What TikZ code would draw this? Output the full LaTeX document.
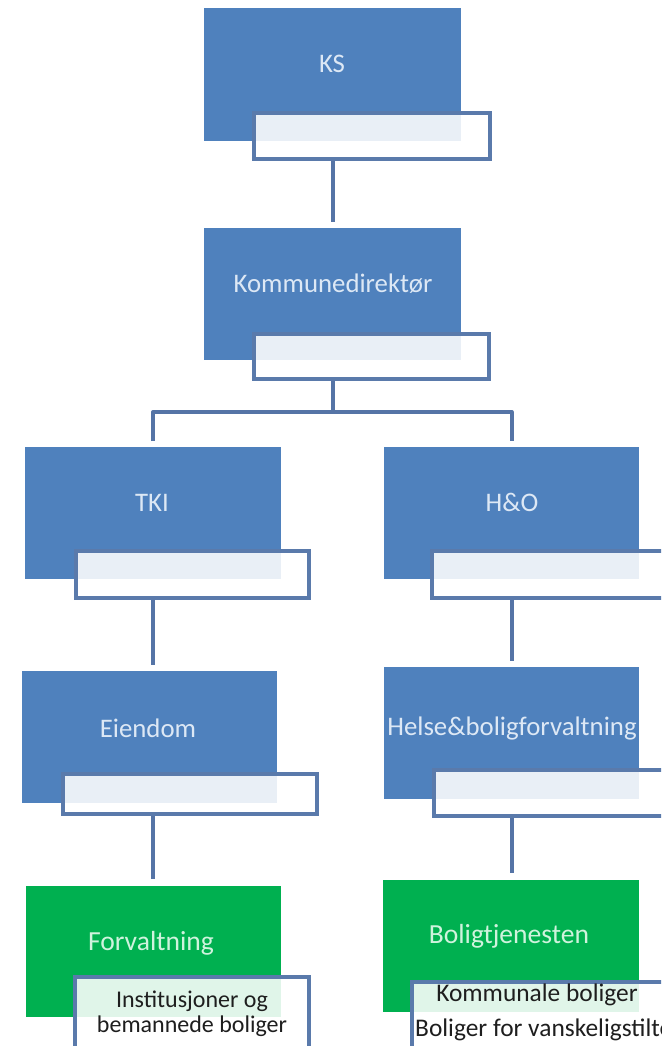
\documentclass[tikz,border=0pt]{standalone}
\usepackage{fontspec}
\setmainfont{Carlito}
\definecolor{ofblue}{HTML}{4F81BD}
\definecolor{ofgreen}{HTML}{00B050}
\definecolor{bordercol}{HTML}{5A7AAB}
\definecolor{linecol}{HTML}{5574A6}
\definecolor{lbltxt}{HTML}{DDE8F5}
\definecolor{grntxt}{HTML}{CFF3DD}
\definecolor{darktxt}{HTML}{1E1E1E}
\tikzset{
  dims/.style 2 args={minimum width=#1pt, minimum height=#2pt},
  bluebox/.style={fill=ofblue, draw=none, inner sep=0pt, outer sep=0pt},
  greenbox/.style={fill=ofgreen, draw=none, inner sep=0pt, outer sep=0pt},
  asst/.style={draw=bordercol, line width=4pt, fill=white, fill opacity=0.88, inner sep=0pt},
  lbl/.style={anchor=base, inner sep=0pt, text=lbltxt, font=\fontsize{26.8}{30}\selectfont},
  glbl/.style={anchor=base, inner sep=0pt, text=grntxt, font=\fontsize{27.6}{31}\selectfont},
  atxt/.style={anchor=base, inner sep=0pt, text=darktxt, font=\fontsize{24}{28}\selectfont},
  btxt/.style={anchor=base, inner sep=0pt, text=darktxt, font=\fontsize{25.4}{28}\selectfont},
  conn/.style={draw=linecol, line width=4pt},
}
\begin{document}
\begin{tikzpicture}[x=1pt,y=-1pt]
\path[use as bounding box, fill=white] (0,0) rectangle (661,1046);
\clip (0,0) rectangle (661,1046);

% level 1
\node[bluebox, dims={257}{133}] (ks) at (332.5,74.5) {};
\node[asst, dims={236}{46}] (ksw) at (372,136) {};
\node[lbl] (kst) at (332,73) {KS};

% level 2
\node[bluebox, dims={257}{132}] (kd) at (332.5,294) {};
\node[asst, dims={235}{45}] (kdw) at (371.5,356.5) {};
\node[lbl] (kdt) at (333,292) {Kommunedirektør};

% level 3
\node[bluebox, dims={256}{132}] (tki) at (153,513) {};
\node[asst, dims={233}{47}] (tkiw) at (192.5,574.5) {};
\node[lbl] (tkit) at (152,511) {TKI};

\node[bluebox, dims={255}{132}] (ho) at (511.5,513) {};
\node[asst, dims={266}{47}] (how) at (565,574.5) {};
\node[lbl] (hot) at (512,511) {H\&O};

% level 4
\node[bluebox, dims={255}{132}] (eien) at (149.5,737) {};
\node[asst, dims={254}{40}] (eienw) at (190,794) {};
\node[lbl] (eient) at (148,737) {Eiendom};

\node[bluebox, dims={255}{132}] (helse) at (511.5,733) {};
\node[asst, dims={264}{46}] (helsew) at (566,793) {};
\node[lbl] (helset) at (512,735) {Helse\&boligforvaltning};

% level 5
\node[greenbox, dims={255}{131}] (forv) at (153.5,951.5) {};
\node[asst, dims={234}{91}] (forvw) at (192,1022.5) {};
\node[glbl] (forvt) at (151,950) {Forvaltning};
\node[atxt] (forva) at (192,1007.5) {Institusjoner og};
\node[atxt] (forvb) at (192,1032.5) {bemannede boliger};

\node[greenbox, dims={256}{132}] (bolig) at (511,946) {};
\node[asst, dims={286}{86}] (boligw) at (555,1025) {};
\node[glbl] (boligt) at (509,943) {Boligtjenesten};
\node[btxt] (boliga) at (537,1001.5) {Kommunale boliger};
\node[btxt, anchor=base west] (boligb) at (415,1036.5) {Boliger for vanskeligstilte};

% connectors
\coordinate (j) at (332.5,412);
\draw[conn, shorten >=6pt] (ks.south |- ksw.south) -- (kd.north);
\draw[conn] (kd.south |- kdw.south) -- (j);
\draw[conn, shorten <=6pt, line join=round] (tki.north) |- (j) -| ([yshift=6pt]ho.north);
\draw[conn, shorten >=6pt] (tki.south |- tkiw.south) -- (tki.south |- eien.north);
\draw[conn, shorten >=6pt] (ho.south |- how.south) -- (ho.south |- helse.north);
\draw[conn, shorten >=7pt] (tki.south |- eienw.south) -- (tki.south |- forv.north);
\draw[conn, shorten >=7pt] (ho.south |- helsew.south) -- (ho.south |- bolig.north);
\end{tikzpicture}
\end{document}
